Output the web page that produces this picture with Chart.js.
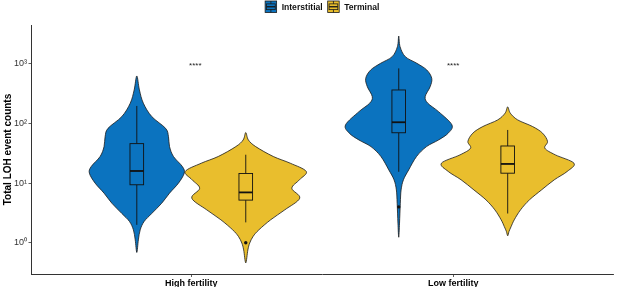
<!DOCTYPE html>
<html>
<head>
<meta charset="utf-8">
<script src="https://cdn.jsdelivr.net/npm/chart.js@4.4.0/dist/chart.umd.min.js"></script>
<style>
  html, body { margin: 0; padding: 0; background: #fff; }
  #wrap { width: 617px; height: 287px; position: relative; }
</style>
</head>
<body>
<div id="wrap"><canvas id="violinChart"></canvas></div>
<script>
const groups = ["Interstitial", "Terminal"];
const categories = ["High fertility", "Low fertility"];
const groupColors = ["#0B73BF", "#E9BE2D"];
const yTicks = [1, 10, 100, 1000];
const yTickLabels = ["10⁰", "10¹", "10²", "10³"];
const sigLabels = ["****", "****"];
const sigAt = 1000;

// violin outlines, top to bottom:
// counts on the y axis and half widths in x axis units
const highInterCounts = [627, 366, 219, 131, 83, 60, 41, 28, 19, 14.7, 10, 6.8, 4.6, 3.1, 2.28, 1.65, 1.12, 0.69];
const highInterWidths = [0, 0.010, 0.025, 0.057, 0.110, 0.121, 0.125, 0.140, 0.174, 0.181, 0.159, 0.125, 0.095, 0.057, 0.028, 0.013, 0.006, 0];
const highTermCounts = [70.5, 53, 41, 28, 21.6, 15.7, 11.4, 8.2, 5.6, 3.57, 2.43, 1.65, 1.28, 0.99, 0.76, 0.46];
const highTermWidths = [0, 0.010, 0.038, 0.105, 0.170, 0.231, 0.205, 0.176, 0.206, 0.149, 0.095, 0.050, 0.028, 0.015, 0.008, 0];
const lowInterCounts = [2930, 1945, 1321, 1023, 791, 573, 415, 282, 219, 158, 95, 69, 53, 41, 28, 16.7, 11.4, 7.7, 4.6, 2.14, 1.24];
const lowInterWidths = [0, 0.005, 0.025, 0.069, 0.107, 0.126, 0.120, 0.101, 0.111, 0.152, 0.203, 0.189, 0.152, 0.106, 0.068, 0.038, 0.018, 0.009, 0.006, 0.003, 0];
const lowTermCounts = [190, 149, 115, 89, 69, 50, 38.5, 29.8, 21.6, 15.7, 11.4, 7.7, 5.25, 3.57, 2.43, 1.87, 1.55, 1.31];
const lowTermWidths = [0, 0.010, 0.038, 0.095, 0.133, 0.152, 0.142, 0.182, 0.253, 0.227, 0.178, 0.129, 0.083, 0.049, 0.025, 0.013, 0.005, 0];

// boxplot stats, order: high/interstitial, high/terminal, low/interstitial, low/terminal
const whiskerMin = [2, 2.2, 15.5, 3.1];
const q1 = [9.4, 5.2, 70, 14.7];
const median = [16, 7, 105, 21];
const q3 = [46, 14.5, 365, 42];
const whiskerMax = [197, 30, 840, 78];
const outliers = [[], [1], [4], []];

const dodge = 0.208;
const boxHalf = 0.026;
const fontFamily = "'Liberation Sans', Arial, Helvetica, sans-serif";

const violins = [
  { cat: 0, grp: 0, counts: highInterCounts, widths: highInterWidths },
  { cat: 0, grp: 1, counts: highTermCounts, widths: highTermWidths },
  { cat: 1, grp: 0, counts: lowInterCounts, widths: lowInterWidths },
  { cat: 1, grp: 1, counts: lowTermCounts, widths: lowTermWidths },
];
const centerOf = (v) => v.cat + 1 + (v.grp === 0 ? -dodge : dodge);

// closed catmull-rom path through the outline points
function smoothPath(ctx, pts) {
  const n = pts.length;
  ctx.moveTo(pts[0][0], pts[0][1]);
  for (let i = 0; i < n; i++) {
    const p0 = pts[(i - 1 + n) % n], p1 = pts[i], p2 = pts[(i + 1) % n], p3 = pts[(i + 2) % n];
    ctx.bezierCurveTo(
      p1[0] + (p2[0] - p0[0]) / 6, p1[1] + (p2[1] - p0[1]) / 6,
      p2[0] - (p3[0] - p1[0]) / 6, p2[1] - (p3[1] - p1[1]) / 6,
      p2[0], p2[1]);
  }
  ctx.closePath();
}

const violinPlugin = {
  id: "violins",
  beforeDatasetsDraw(chart) {
    const { ctx, scales: { x, y } } = chart;
    ctx.save();
    // violins
    violins.forEach((v) => {
      const cx = centerOf(v);
      const right = v.counts.map((c, i) => [x.getPixelForValue(cx + v.widths[i]), y.getPixelForValue(c)]);
      const left = v.counts.map((c, i) => [x.getPixelForValue(cx - v.widths[i]), y.getPixelForValue(c)]);
      const pts = right.concat(left.slice(1, -1).reverse());
      ctx.beginPath();
      smoothPath(ctx, pts);
      ctx.fillStyle = groupColors[v.grp];
      ctx.fill();
      ctx.lineWidth = 0.8;
      ctx.strokeStyle = "#1b1b1b";
      ctx.stroke();
    });
    // boxplots
    violins.forEach((v, k) => {
      const cx = centerOf(v);
      const px = x.getPixelForValue(cx);
      const l = x.getPixelForValue(cx - boxHalf), r = x.getPixelForValue(cx + boxHalf);
      ctx.strokeStyle = "#111";
      ctx.lineWidth = 0.9;
      ctx.beginPath();
      ctx.moveTo(px, y.getPixelForValue(whiskerMax[k]));
      ctx.lineTo(px, y.getPixelForValue(q3[k]));
      ctx.moveTo(px, y.getPixelForValue(q1[k]));
      ctx.lineTo(px, y.getPixelForValue(whiskerMin[k]));
      ctx.stroke();
      const top = y.getPixelForValue(q3[k]), bot = y.getPixelForValue(q1[k]);
      ctx.fillStyle = groupColors[v.grp];
      ctx.fillRect(l, top, r - l, bot - top);
      ctx.strokeRect(l, top, r - l, bot - top);
      ctx.lineWidth = 1.8;
      ctx.beginPath();
      const m = y.getPixelForValue(median[k]);
      ctx.moveTo(l, m);
      ctx.lineTo(r, m);
      ctx.stroke();
    });
    ctx.restore();
  },
  afterDraw(chart) {
    const { ctx, chartArea, scales: { x, y } } = chart;
    ctx.save();
    // significance labels
    ctx.font = "8px " + fontFamily;
    ctx.fillStyle = "#222";
    ctx.textAlign = "center";
    ctx.textBaseline = "alphabetic";
    sigLabels.forEach((s, i) => {
      ctx.fillText(s, x.getPixelForValue(i + 1) + (i === 0 ? 4 : 0), y.getPixelForValue(sigAt) + 4.5);
    });
    // legend
    const key = 11.5, gap = 5, sep = 5;
    ctx.font = "bold 8.6px " + fontFamily;
    const widths = groups.map((g) => ctx.measureText(g).width);
    const total = widths.reduce((a, w) => a + key + gap + w, 0) + sep * (groups.length - 1);
    let lx = (chartArea.left + chartArea.right) / 2 - total / 2;
    const ky = 1;
    groups.forEach((g, i) => {
      ctx.fillStyle = groupColors[i];
      ctx.fillRect(lx, ky, key, key);
      ctx.strokeStyle = "#1b1b1b";
      ctx.lineWidth = 0.8;
      ctx.strokeRect(lx, ky, key, key);
      ctx.beginPath();
      ctx.moveTo(lx + key / 2, ky);
      ctx.lineTo(lx + key / 2, ky + key * 0.25);
      ctx.moveTo(lx + key / 2, ky + key * 0.75);
      ctx.lineTo(lx + key / 2, ky + key);
      ctx.stroke();
      ctx.strokeRect(lx + key * 0.12, ky + key * 0.25, key * 0.76, key * 0.5);
      ctx.lineWidth = 1.4;
      ctx.beginPath();
      ctx.moveTo(lx + key * 0.12, ky + key / 2);
      ctx.lineTo(lx + key * 0.88, ky + key / 2);
      ctx.stroke();
      ctx.fillStyle = "#111";
      ctx.textAlign = "left";
      ctx.textBaseline = "middle";
      ctx.fillText(g, lx + key + gap, ky + key / 2 + 0.5);
      lx += key + gap + widths[i] + sep;
    });
    ctx.restore();
  },
};

const outlierData = [];
violins.forEach((v, k) => {
  outliers[k].forEach((o) => outlierData.push({ x: centerOf(v), y: o }));
});

new Chart(document.getElementById("violinChart"), {
  type: "scatter",
  data: {
    datasets: [{
      label: "outliers",
      data: outlierData,
      pointRadius: 1.7,
      pointBackgroundColor: "#111",
      pointBorderWidth: 0,
    }],
  },
  options: {
    responsive: true,
    maintainAspectRatio: false,
    animation: false,
    devicePixelRatio: 1,
    events: [],
    layout: { padding: { top: 25, left: 0, right: 0, bottom: 0 } },
    plugins: { legend: { display: false }, tooltip: { enabled: false } },
    scales: {
      x: {
        type: "linear",
        min: 0.39,
        max: 2.61,
        afterBuildTicks: (s) => { s.ticks = categories.map((c, i) => ({ value: i + 1 })); },
        afterFit: (s) => { s.height = 13; },
        ticks: {
          callback: (v) => categories[v - 1],
          font: { family: fontFamily, size: 9, weight: "bold" },
          color: "#000",
          padding: 1.5,
          maxRotation: 0,
          autoSkip: false,
        },
        grid: { display: true, drawOnChartArea: false, drawTicks: true, tickLength: 3, color: "#333", lineWidth: 0.8 },
        border: { display: true, color: "#333", width: 1 },
      },
      y: {
        type: "logarithmic",
        min: 0.303,
        max: 4484,
        afterBuildTicks: (s) => { s.ticks = yTicks.map((v) => ({ value: v })); },
        afterFit: (s) => { s.width = 31.5; },
        ticks: {
          callback: (v) => yTickLabels[yTicks.indexOf(v)],
          font: { family: fontFamily, size: 9 },
          color: "#333",
          padding: 1.5,
          autoSkip: false,
        },
        grid: { display: true, drawOnChartArea: false, drawTicks: true, tickLength: 3, color: "#333", lineWidth: 0.8 },
        border: { display: true, color: "#333", width: 1 },
        title: {
          display: true,
          text: "Total LOH event counts",
          font: { family: fontFamily, size: 10, weight: "bold" },
          color: "#000",
          padding: { top: 2, bottom: 0 },
        },
      },
    },
  },
  plugins: [violinPlugin],
});
</script>
</body>
</html>
